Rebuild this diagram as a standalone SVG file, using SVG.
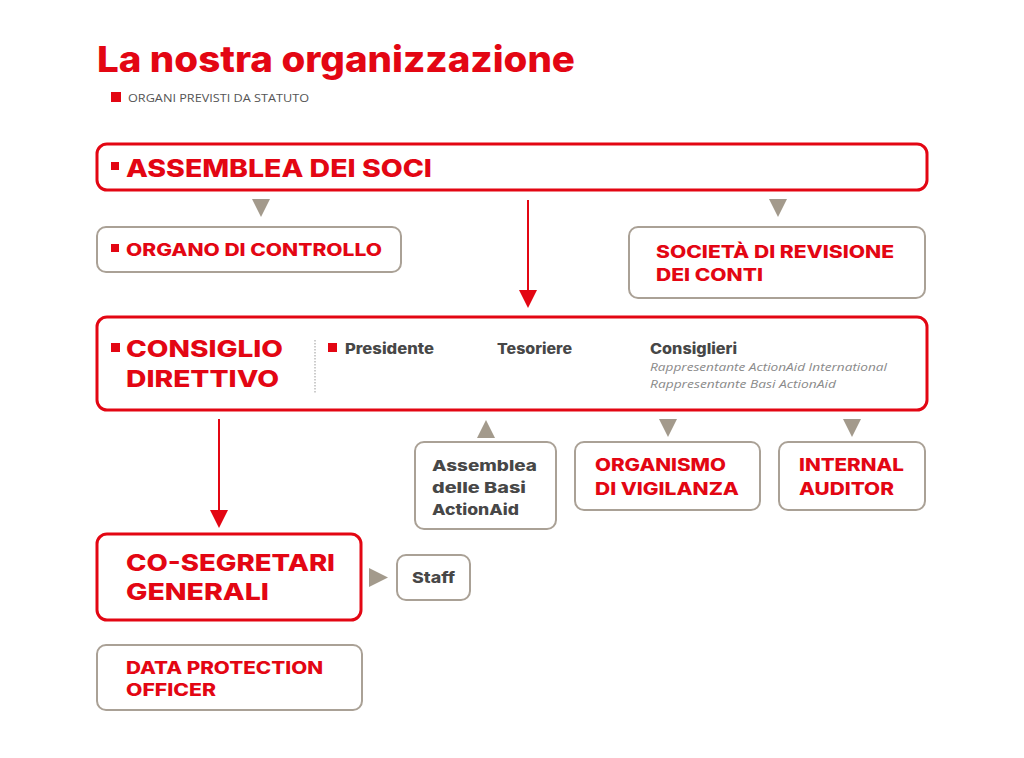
<svg xmlns="http://www.w3.org/2000/svg" width="1024" height="758" viewBox="0 0 1024 758">
<style>
.red{fill:#e30613}
.rb{fill:#fff;stroke:#e30613;stroke-width:3}
.gb{fill:#fff;stroke:#aaa196;stroke-width:2}
.h{font-family:Inter,"Open Sans","Liberation Sans",sans-serif;font-weight:800;fill:#e30613}
.d{font-family:Inter,"Open Sans","Liberation Sans",sans-serif;font-weight:800;fill:#474747}
.it{font-family:"Open Sans","Liberation Sans",sans-serif;font-style:italic;font-size:11.5px;fill:#8a8a8a}
.tri{fill:#a39a8c}
.ln{stroke:#e30613;stroke-width:2;fill:none}
</style>
<rect width="1024" height="758" fill="#fff"/>
<g id="title">
<text x="97" y="72" class="h" font-size="36" textLength="478" lengthAdjust="spacingAndGlyphs">La nostra organizzazione</text>
<rect x="111" y="92" width="10" height="10" class="red"/>
<text x="128" y="102" font-family="Open Sans, Liberation Sans, sans-serif" font-size="11" fill="#555" textLength="181" lengthAdjust="spacingAndGlyphs">ORGANI PREVISTI DA STATUTO</text>
</g>
<g id="connectors">
<polygon class="tri" points="252,199 270,199 261,217"/>
<polygon class="tri" points="769,199 787,199 778,217"/>
<line class="ln" x1="528" y1="200" x2="528" y2="292"/>
<polygon class="red" points="519,290 537,290 528,308"/>
<line class="ln" x1="219" y1="419" x2="219" y2="512"/>
<polygon class="red" points="210,510 228,510 219,528"/>
<polygon class="tri" points="477,438 495,438 486,420"/>
<polygon class="tri" points="659,419 677,419 668,437"/>
<polygon class="tri" points="843,419 861,419 852,437"/>
<polygon class="tri" points="369,568 369,587 388,577.5"/>
</g>
<g id="assemblea-soci">
<rect x="97" y="144" width="830" height="46" rx="10" class="rb"/>
<rect x="111" y="162" width="8" height="8" class="red"/>
<text x="126" y="177" class="h" font-size="24" textLength="306" lengthAdjust="spacingAndGlyphs">ASSEMBLEA DEI SOCI</text>
</g>
<g id="organo-controllo">
<rect x="97" y="227" width="304" height="45" rx="9" class="gb"/>
<rect x="111" y="244" width="8" height="8" class="red"/>
<text x="126" y="256" class="h" font-size="17" textLength="256" lengthAdjust="spacingAndGlyphs">ORGANO DI CONTROLLO</text>
</g>
<g id="societa-revisione">
<rect x="629" y="227" width="296" height="71" rx="9" class="gb"/>
<text x="656" y="258" class="h" font-size="17" textLength="238" lengthAdjust="spacingAndGlyphs">SOCIETÀ DI REVISIONE</text>
<text x="656" y="281" class="h" font-size="17" textLength="107" lengthAdjust="spacingAndGlyphs">DEI CONTI</text>
</g>
<g id="consiglio-direttivo">
<rect x="97" y="317" width="830" height="93" rx="10" class="rb"/>
<rect x="111" y="343" width="9" height="9" class="red"/>
<text x="126" y="357" class="h" font-size="23" textLength="157" lengthAdjust="spacingAndGlyphs">CONSIGLIO</text>
<text x="126" y="387" class="h" font-size="23" textLength="153" lengthAdjust="spacingAndGlyphs">DIRETTIVO</text>
<line x1="315" y1="340" x2="315" y2="393" stroke="#999" stroke-width="1" stroke-dasharray="1.5,1.5"/>
<rect x="328" y="343" width="9" height="9" class="red"/>
<text x="345" y="354" class="d" font-size="15" textLength="89" lengthAdjust="spacingAndGlyphs">Presidente</text>
<text x="497" y="354" class="d" font-size="15" textLength="75" lengthAdjust="spacingAndGlyphs">Tesoriere</text>
<text x="650" y="354" class="d" font-size="15" textLength="87" lengthAdjust="spacingAndGlyphs">Consiglieri</text>
<text x="650" y="371" class="it" textLength="237" lengthAdjust="spacingAndGlyphs">Rappresentante ActionAid International</text>
<text x="650" y="388" class="it" textLength="186" lengthAdjust="spacingAndGlyphs">Rappresentante Basi ActionAid</text>
</g>
<g id="assemblea-basi">
<rect x="415" y="442" width="141" height="87" rx="9" class="gb"/>
<text x="432" y="471" class="d" font-size="15" textLength="105" lengthAdjust="spacingAndGlyphs">Assemblea</text>
<text x="432" y="493" class="d" font-size="15" textLength="94" lengthAdjust="spacingAndGlyphs">delle Basi</text>
<text x="432" y="515" class="d" font-size="15" textLength="87" lengthAdjust="spacingAndGlyphs">ActionAid</text>
</g>
<g id="organismo-vigilanza">
<rect x="575" y="442" width="185" height="68" rx="9" class="gb"/>
<text x="595" y="471" class="h" font-size="17" textLength="131" lengthAdjust="spacingAndGlyphs">ORGANISMO</text>
<text x="595" y="495" class="h" font-size="17" textLength="144" lengthAdjust="spacingAndGlyphs">DI VIGILANZA</text>
</g>
<g id="internal-auditor">
<rect x="779" y="442" width="146" height="68" rx="9" class="gb"/>
<text x="799" y="471" class="h" font-size="17" textLength="105" lengthAdjust="spacingAndGlyphs">INTERNAL</text>
<text x="799" y="495" class="h" font-size="17" textLength="95" lengthAdjust="spacingAndGlyphs">AUDITOR</text>
</g>
<g id="co-segretari">
<rect x="97" y="534" width="264" height="86" rx="10" class="rb"/>
<text x="126" y="571" class="h" font-size="23" textLength="209" lengthAdjust="spacingAndGlyphs">CO-SEGRETARI</text>
<text x="126" y="600" class="h" font-size="23" textLength="143" lengthAdjust="spacingAndGlyphs">GENERALI</text>
</g>
<g id="staff">
<rect x="397" y="555" width="73" height="45" rx="9" class="gb"/>
<text x="412" y="583" class="d" font-size="15" textLength="43" lengthAdjust="spacingAndGlyphs">Staff</text>
</g>
<g id="data-protection">
<rect x="97" y="645" width="265" height="65" rx="9" class="gb"/>
<text x="126" y="674" class="h" font-size="17" textLength="197" lengthAdjust="spacingAndGlyphs">DATA PROTECTION</text>
<text x="126" y="696" class="h" font-size="17" textLength="90" lengthAdjust="spacingAndGlyphs">OFFICER</text>
</g>
</svg>
